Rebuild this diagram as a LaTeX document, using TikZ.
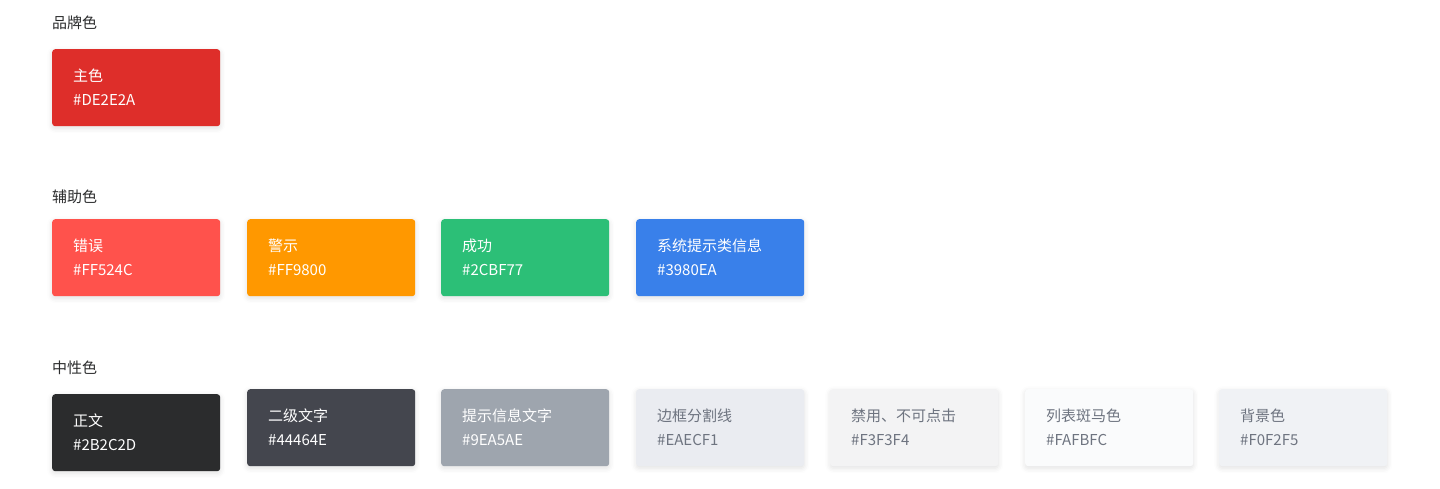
\documentclass[tikz,border=0pt]{standalone}
\usepackage{fontspec}
\setmainfont{Noto Sans CJK SC}
\usetikzlibrary{shadows.blur}
\definecolor{cA}{HTML}{DE2E2A}
\definecolor{cB}{HTML}{FF524C}
\definecolor{cC}{HTML}{FF9800}
\definecolor{cD}{HTML}{2CBF77}
\definecolor{cE}{HTML}{3980EA}
\definecolor{cF}{HTML}{2B2C2D}
\definecolor{cG}{HTML}{44464E}
\definecolor{cH}{HTML}{9EA5AE}
\definecolor{cI}{HTML}{EAECF1}
\definecolor{cJ}{HTML}{F3F3F4}
\definecolor{cK}{HTML}{FAFBFC}
\definecolor{cL}{HTML}{F0F2F5}
\definecolor{ttl}{HTML}{2B2C2D}
\definecolor{gtx}{HTML}{6E7480}
\tikzset{
  swatch/.style={rounded corners=3pt, minimum width=168pt, minimum height=77pt, anchor=north west,
    blur shadow={shadow xshift=0pt, shadow yshift=-2pt, shadow blur radius=5pt, shadow opacity=12}},
  lbl/.style={anchor=west, font=\fontsize{15}{18}\selectfont, inner sep=0pt},
  ttlsty/.style={anchor=west, font=\fontsize{15}{18}\selectfont, text=ttl, inner sep=0pt}
}
\newcommand{\sw}[6]{%
  \node[swatch, fill=#2] (#1) at (#3,-#4) {};
  \node[lbl, text=#5] (#1n) at ([xshift=21pt,yshift=-27pt]#1.north west) {#6};
}
\begin{document}
\begin{tikzpicture}[x=1pt,y=1pt]
\useasboundingbox (0,0) rectangle (1440,-489);
\node[ttlsty] (t1) at (52,-23) {品牌色};
\node[ttlsty] (t2) at (52,-197) {辅助色};
\node[ttlsty] (t3) at (52,-368) {中性色};

\sw{a}{cA}{52}{49}{white}{主色}
\node[lbl,text=white] (ah) at ([yshift=-24pt]an.west) {\#DE2E2A};

\sw{b}{cB}{52}{219}{white}{错误}
\node[lbl,text=white] (bh) at ([yshift=-24pt]bn.west) {\#FF524C};
\sw{c}{cC}{247}{219}{white}{警示}
\node[lbl,text=white] (ch) at ([yshift=-24pt]cn.west) {\#FF9800};
\sw{d}{cD}{441}{219}{white}{成功}
\node[lbl,text=white] (dh) at ([yshift=-24pt]dn.west) {\#2CBF77};
\sw{e}{cE}{636}{219}{white}{系统提示类信息}
\node[lbl,text=white] (eh) at ([yshift=-24pt]en.west) {\#3980EA};

\sw{f}{cF}{52}{394}{white}{正文}
\node[lbl,text=white] (fh) at ([yshift=-24pt]fn.west) {\#2B2C2D};
\sw{g}{cG}{247}{389}{white}{二级文字}
\node[lbl,text=white] (gh) at ([yshift=-24pt]gn.west) {\#44464E};
\sw{h}{cH}{441}{389}{white}{提示信息文字}
\node[lbl,text=white] (hh) at ([yshift=-24pt]hn.west) {\#9EA5AE};
\sw{i}{cI}{636}{389}{gtx}{边框分割线}
\node[lbl,text=gtx] (ih) at ([yshift=-24pt]in.west) {\#EAECF1};
\sw{j}{cJ}{830}{389}{gtx}{禁用、不可点击}
\node[lbl,text=gtx] (jh) at ([yshift=-24pt]jn.west) {\#F3F3F4};
\sw{k}{cK}{1025}{389}{gtx}{列表斑马色}
\node[lbl,text=gtx] (kh) at ([yshift=-24pt]kn.west) {\#FAFBFC};
\sw{l}{cL}{1219}{389}{gtx}{背景色}
\node[lbl,text=gtx] (lh) at ([yshift=-24pt]ln.west) {\#F0F2F5};
\end{tikzpicture}
\end{document}
